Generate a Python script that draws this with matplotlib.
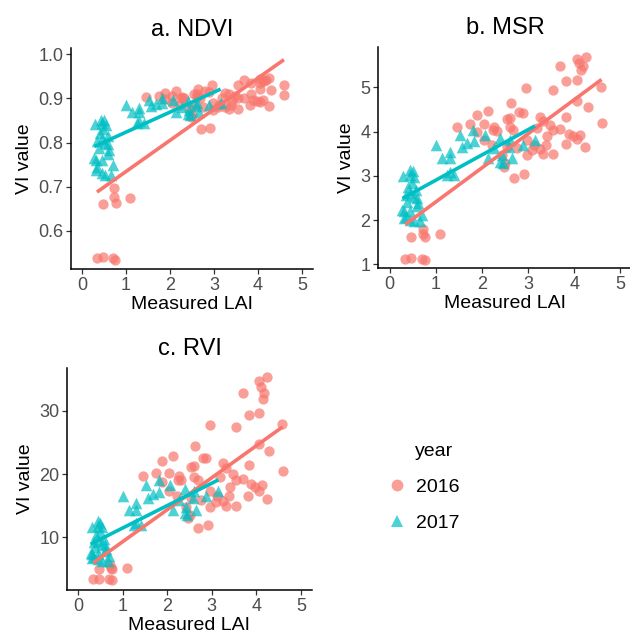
import numpy as np
import matplotlib
matplotlib.use("Agg")
import matplotlib.pyplot as plt
from matplotlib.lines import Line2D

plt.rcParams['font.family'] = ['Liberation Sans', 'DejaVu Sans']

# ---------------- data ----------------
lai_2016 = [0.34, 0.47, 0.70, 0.76, 0.47, 0.72, 0.73, 0.77, 1.10,
            4.25, 4.05, 4.11, 3.69, 4.18, 4.14, 4.05, 3.83, 4.58, 2.96,
            3.55, 4.05, 4.29, 2.63, 1.89, 2.13, 2.80, 2.88, 2.54, 3.83,
            4.59, 3.26, 3.33, 3.47, 1.46, 1.75, 2.05, 2.27, 2.61, 2.32,
            2.68, 3.69, 3.88, 4.12, 3.98, 4.05, 4.24, 3.82, 3.40, 3.39,
            3.26, 3.09, 3.33, 3.55, 2.97, 2.04, 2.22, 2.43, 2.50, 2.47,
            2.70, 2.92, 2.97, 1.89, 3.12, 2.76, 2.54, 3.19, 3.55, 2.61,
            2.24]
ndvi_2016 = [0.538, 0.541, 0.538, 0.535, 0.660, 0.697, 0.676, 0.664, 0.674,
             0.945, 0.944, 0.942, 0.941, 0.941, 0.939, 0.935, 0.934, 0.931, 0.930,
             0.930, 0.922, 0.919, 0.921, 0.913, 0.916, 0.916, 0.915, 0.910, 0.911,
             0.907, 0.912, 0.909, 0.905, 0.903, 0.906, 0.906, 0.903, 0.903, 0.900,
             0.901, 0.901, 0.897, 0.896, 0.894, 0.891, 0.883, 0.885, 0.894, 0.885,
             0.880, 0.880, 0.875, 0.875, 0.873, 0.890, 0.885, 0.873, 0.863, 0.857,
             0.830, 0.834, 0.890, 0.899, 0.885, 0.881, 0.883, 0.902, 0.901, 0.910,
             0.901]
msr_2016 = [1.13, 1.14, 1.13, 1.11, 1.61, 1.81, 1.69, 1.63, 1.68,
            5.69, 5.64, 5.56, 5.48, 5.48, 5.39, 5.17, 5.14, 5.00, 4.98,
            4.95, 4.68, 4.56, 4.64, 4.38, 4.47, 4.45, 4.43, 4.28, 4.32,
            4.20, 4.34, 4.25, 4.15, 4.11, 4.17, 4.17, 4.11, 4.10, 4.02,
            4.04, 4.05, 3.95, 3.92, 3.89, 3.83, 3.65, 3.71, 3.89, 3.70,
            3.60, 3.59, 3.50, 3.50, 3.47, 3.81, 3.70, 3.47, 3.30, 3.20,
            2.95, 3.05, 3.81, 4.00, 3.70, 3.62, 3.66, 4.08, 4.04, 4.30,
            4.04]
rvi_2016 = [3.35, 3.38, 3.35, 3.31, 4.93, 5.67, 5.21, 4.99, 5.17,
            35.3, 34.7, 33.8, 32.9, 32.9, 31.9, 29.6, 29.3, 27.9, 27.7,
            27.4, 24.8, 23.6, 24.4, 22.0, 22.8, 22.6, 22.5, 21.1, 21.5,
            20.5, 21.7, 20.9, 20.0, 19.7, 20.2, 20.2, 19.7, 19.6, 19.0,
            19.1, 19.2, 18.4, 18.2, 17.9, 17.4, 16.1, 16.5, 17.9, 16.5,
            15.7, 15.6, 15.0, 15.0, 14.8, 17.3, 16.5, 14.8, 13.6, 13.0,
            11.4, 12.0, 17.3, 18.8, 16.5, 15.9, 16.2, 19.5, 19.1, 21.3,
            19.1]

lai_2017 = [0.30, 0.44, 0.50, 0.45, 0.54, 0.40, 0.45, 0.35, 0.53, 0.60,
            0.38, 0.28, 0.31, 0.45, 0.60, 0.35, 0.45, 0.53, 0.67, 0.70,
            0.32, 0.58, 1.00, 1.14, 1.30, 1.30, 1.30, 1.40, 1.25, 1.53,
            1.57, 1.68, 1.81, 1.82, 2.07, 2.14, 2.40, 2.43, 2.40, 2.61,
            2.65, 2.58, 2.45, 2.27, 3.15, 2.88, 0.48, 0.62]
ndvi_2017 = [0.842, 0.852, 0.850, 0.844, 0.840, 0.822, 0.808, 0.804, 0.800, 0.797,
             0.788, 0.765, 0.761, 0.761, 0.775, 0.744, 0.732, 0.727, 0.727, 0.750,
             0.739, 0.815, 0.885, 0.869, 0.878, 0.869, 0.848, 0.845, 0.845, 0.896,
             0.883, 0.887, 0.901, 0.889, 0.896, 0.869, 0.893, 0.873, 0.864, 0.890,
             0.869, 0.883, 0.862, 0.881, 0.890, 0.885, 0.830, 0.784]
msr_2017 = [3.00, 3.13, 3.10, 3.02, 2.98, 2.76, 2.61, 2.57, 2.53, 2.50,
            2.42, 2.23, 2.20, 2.20, 2.31, 2.08, 2.00, 1.97, 1.97, 2.12,
            2.05, 2.68, 3.70, 3.40, 3.55, 3.40, 3.08, 3.03, 3.03, 3.92,
            3.66, 3.74, 4.04, 3.78, 3.92, 3.40, 3.85, 3.47, 3.32, 3.81,
            3.40, 3.66, 3.29, 3.62, 3.81, 3.70, 2.85, 2.38]
rvi_2017 = [11.7, 12.5, 12.3, 11.8, 11.6, 10.3, 9.4, 9.2, 9.0, 8.8,
            8.4, 7.5, 7.4, 7.4, 7.9, 6.8, 6.5, 6.3, 6.3, 7.0,
            6.7, 9.8, 16.5, 14.3, 15.4, 14.3, 12.2, 11.9, 11.9, 18.2,
            16.2, 16.8, 19.1, 17.1, 18.2, 14.3, 17.6, 14.8, 13.8, 17.3,
            14.3, 16.2, 13.6, 15.9, 17.3, 16.5, 10.8, 8.2]

years = ["2016", "2017"]
legend_title = "year"
panel_titles = ["a. NDVI", "b. MSR", "c. RVI"]
x_label = "Measured LAI"
y_label = "VI value"
x_ticks = [0, 1, 2, 3, 4, 5]
y_ticks = [[0.6, 0.7, 0.8, 0.9, 1.0], [1, 2, 3, 4, 5], [10, 20, 30]]
y_ticklabels = [["0.6", "0.7", "0.8", "0.9", "1.0"], ["1", "2", "3", "4", "5"], ["10", "20", "30"]]

# ---------------- style ----------------
W, H = 630, 637
col = {"2016": "#F8766D", "2017": "#00BFC4"}
mark = {"2016": "o", "2017": "^"}
msize = {"2016": 55, "2017": 70}

fig = plt.figure(figsize=(W / 100, H / 100), dpi=100)

def px_axes(left, top, right, bottom):
    return fig.add_axes([left / W, 1 - bottom / H, (right - left) / W, (bottom - top) / H])

axes = [px_axes(71, 48, 313, 269), px_axes(378, 47, 632, 268), px_axes(67, 368, 312, 590)]
ylims = [(0.514, 1.014), (0.92, 5.91), (1.65, 36.8)]

data = [
    {"2016": (lai_2016, ndvi_2016), "2017": (lai_2017, ndvi_2017)},
    {"2016": (lai_2016, msr_2016), "2017": (lai_2017, msr_2017)},
    {"2016": (lai_2016, rvi_2016), "2017": (lai_2017, rvi_2017)},
]

for i, ax in enumerate(axes):
    for y in years:
        xs, vs = np.array(data[i][y][0]), np.array(data[i][y][1])
        ax.scatter(xs, vs, s=msize[y], marker=mark[y], color=col[y], alpha=0.7,
                   linewidths=0, zorder=2)
    for y in years:
        xs, vs = np.array(data[i][y][0]), np.array(data[i][y][1])
        k, b = np.polyfit(xs, vs, 1)
        xx = np.array([xs.min(), xs.max()])
        ax.plot(xx, k * xx + b, color=col[y], lw=2.6, solid_capstyle='butt', zorder=3)
    ax.set_xlim(-0.25, 5.25)
    ax.set_ylim(*ylims[i])
    ax.set_xticks(x_ticks)
    ax.set_yticks(y_ticks[i])
    ax.set_yticklabels(y_ticklabels[i])
    for s in ["top", "right"]:
        ax.spines[s].set_visible(False)
    for s in ["left", "bottom"]:
        ax.spines[s].set_linewidth(1.1)
        ax.spines[s].set_color("black")
    ax.tick_params(length=3.5, width=0.9, color="#333333", labelcolor="#4D4D4D",
                   labelsize=13, pad=2)
    ax.set_xlabel(x_label, fontsize=14, labelpad=2, color="black")
    ax.set_ylabel(y_label, fontsize=14, labelpad=4, color="black")
    ax.set_title(panel_titles[i], fontsize=17, pad=9)

# legend
fig.text(415 / W, 1 - 452 / H, legend_title, fontsize=14, ha="left", va="center")
handles = [Line2D([], [], marker=mark[y], color=col[y], alpha=0.7, linestyle='none',
                  markersize=8.5, markeredgewidth=0) for y in years]
fig.legend(handles, years, loc="upper left",
           bbox_to_anchor=(368 / W, 1 - 461 / H), frameon=False,
           fontsize=14, labelspacing=0.95,
           handletextpad=0.35, handlelength=1.2)

fig.savefig("out.png", dpi=100)
